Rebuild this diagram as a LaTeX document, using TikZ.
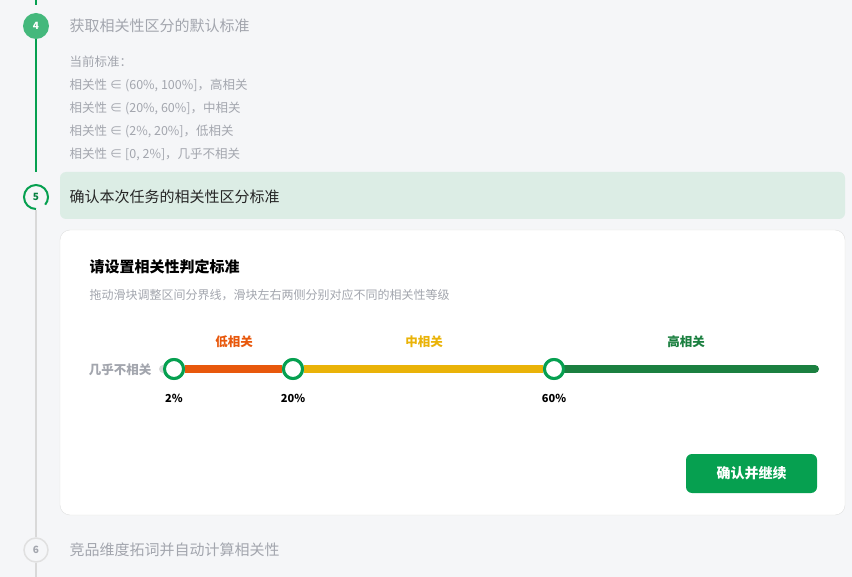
\documentclass[tikz,border=0pt]{standalone}
\usepackage{fontspec}
\setmainfont{Noto Sans CJK SC}
\usetikzlibrary{positioning}
\definecolor{bg}{HTML}{F5F6F8}
\definecolor{okgreen}{HTML}{06A050}
\definecolor{lowred}{HTML}{E8580C}
\definecolor{midyel}{HTML}{EAB308}
\definecolor{highgr}{HTML}{1B8040}
\definecolor{bandgreen}{HTML}{DCEDE5}
\definecolor{muted}{HTML}{A3A6AE}
\tikzset{
  stepnum/.style = {circle, minimum size=26pt, inner sep=0pt, font=\fontsize{10}{10}\selectfont\bfseries},
  steptitle/.style = {anchor=west, font=\fontsize{15}{15}\selectfont},
  ruleline/.style = {anchor=west, text=muted, font=\fontsize{12.5}{12.5}\selectfont},
  knob/.style = {circle, draw=okgreen, line width=3pt, fill=white, minimum size=19pt, inner sep=0pt},
  seg/.style = {line width=8pt},
  tick/.style = {font=\fontsize{11}{11}\selectfont\bfseries},
  level/.style = {font=\fontsize{12.5}{12.5}\selectfont\bfseries}
}
\begin{document}
\begin{tikzpicture}[x=1pt, y=-1pt]
  \fill[bg] (0,0) rectangle (852,577);
  \useasboundingbox (0,0) rectangle (852,577);
  % timeline
  \draw[okgreen, line width=2pt] (36,0) -- (36,5);
  \node[stepnum, fill=okgreen!75, text=white] (s4) at (36,26) {4};
  \node[stepnum, text=okgreen!80!black] (s5) at (36,197) {5};
  \draw[okgreen, line width=2pt] (36,209) arc (90:400:12);
  \node[stepnum, draw=black!12, line width=1.5pt, text=muted, minimum size=24pt] (s6) at (36,550) {6};
  \draw[okgreen, line width=2pt] (s4.south) -- (36,172);
  \draw[black!15, line width=2pt] (s5.south) -- (s6.north);
  \draw[black!15, line width=2pt] (s6.south) -- (36,577);
  % step 4
  \node[steptitle, text=muted] (t4) at (66,26) {获取相关性区分的默认标准};
  \node[ruleline] (r0) at (66,62) {当前标准：};
  \node[ruleline] (r1) at (66,85) {相关性 ∈ (60\%, 100\%]，高相关};
  \node[ruleline] (r2) at (66,108) {相关性 ∈ (20\%, 60\%]，中相关};
  \node[ruleline] (r3) at (66,131) {相关性 ∈ (2\%, 20\%]，低相关};
  \node[ruleline] (r4) at (66,154) {相关性 ∈ [0, 2\%]，几乎不相关};
  % step 5
  \fill[bandgreen, rounded corners=6pt] (60,172) rectangle (845,219);
  \node[steptitle, text=black!85] (t5) at (66,197) {确认本次任务的相关性区分标准};
  \filldraw[fill=white, draw=black!12, rounded corners=10pt] (60,230) rectangle (845,515);
  \node[anchor=west, font=\fontsize{15}{15}\selectfont\bfseries] (ctitle) at (86,267) {请设置相关性判定标准};
  \node[anchor=west, text=muted, font=\fontsize{12}{12}\selectfont] (chint) at (86,295) {拖动滑块调整区间分界线，滑块左右两侧分别对应不同的相关性等级};
  % slider
  \node[anchor=east, text=muted, level] (none) at (155,370) {几乎不相关};
  \coordinate (bstart) at (165,369);
  \coordinate (bend) at (815,369);
  \node[knob] (k2) at (174,369) {};
  \node[knob] (k20) at (293,369) {};
  \node[knob] (k60) at (554,369) {};
  \draw[seg, black!15, line cap=round] (bstart) -- (k2.west);
  \draw[seg, highgr, line cap=round] (k60.east) -- (bend);
  \draw[seg, lowred] (k2.east) -- (k20.west);
  \draw[seg, midyel] (k20.east) -- (k60.west);
  \node[knob] at (k2) {};
  \node[knob] at (k20) {};
  \node[knob] at (k60) {};
  \node[level, text=lowred] (lab1) at (234,342) {低相关};
  \node[level, text=midyel] (lab2) at (424,342) {中相关};
  \node[level, text=highgr] (lab3) at (686,342) {高相关};
  \node[tick] (p2) at (174,398) {2\%};
  \node[tick] (p20) at (293,398) {20\%};
  \node[tick] (p60) at (554,398) {60\%};
  % button
  \fill[okgreen, rounded corners=6pt] (686,454) rectangle (817,493);
  \node[text=white, font=\fontsize{14}{14}\selectfont\bfseries] (ok) at (751.5,473.5) {确认并继续};
  % step 6
  \node[steptitle, text=muted] (t6) at (66,550) {竞品维度拓词并自动计算相关性};
\end{tikzpicture}
\end{document}
